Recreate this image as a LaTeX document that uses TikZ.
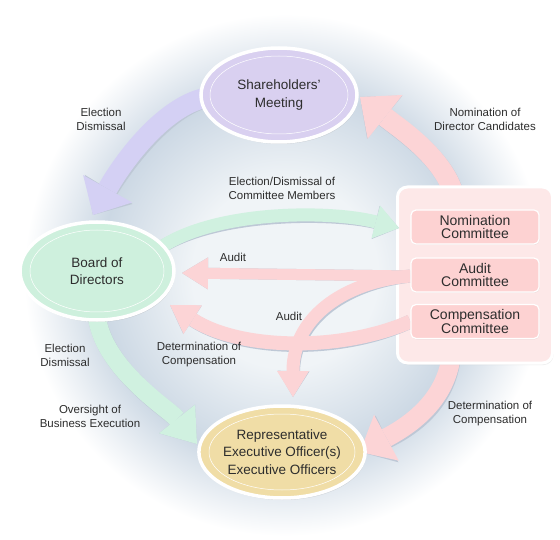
\documentclass[tikz,border=0pt]{standalone}
\usepackage{fontspec}
\setmainfont{Liberation Sans}
\usetikzlibrary{arrows.meta,shapes.geometric,shadows,calc}

\definecolor{txt}{RGB}{45,45,45}
\definecolor{lav}{RGB}{217,208,240}
\definecolor{lavarr}{RGB}{212,208,244}
\definecolor{mint}{RGB}{206,240,221}
\definecolor{mintarr}{RGB}{208,241,224}
\definecolor{gold}{RGB}{240,221,166}
\definecolor{pinkarr}{RGB}{252,212,214}
\definecolor{combox}{RGB}{253,210,210}
\definecolor{comouter}{RGB}{253,232,232}
\definecolor{arrshadow}{RGB}{190,200,214}
\definecolor{bgA}{RGB}{240,244,247}
\definecolor{bgB}{RGB}{204,216,228}
\pgfdeclareradialshading{ringshade}{\pgfpointorigin}{color(0bp)=(bgA); color(8bp)=(bgA); color(16bp)=(bgB); color(22.5bp)=(white); color(50bp)=(white)}

\pgfdeclarelayer{bg}
\pgfdeclarelayer{backshadow}
\pgfdeclarelayer{arrback}
\pgfdeclarelayer{boxlayer}
\pgfdeclarelayer{frontshadow}
\pgfdeclarelayer{arrfront}
\pgfsetlayers{bg,backshadow,arrback,boxlayer,frontshadow,arrfront,main}

\tikzset{
  ell/.style={ellipse, draw=white, line width=3.5pt, inner sep=0pt, align=center,
    font=\fontsize{13.5}{17.5}\selectfont, text=txt,
    drop shadow={opacity=0.22, shadow xshift=1pt, shadow yshift=-2pt}},
  cbox/.style={rectangle, rounded corners=5pt, draw=white, line width=1.2pt, fill=combox,
    minimum width=128pt, minimum height=34pt, inner sep=0pt, align=center,
    font=\fontsize{14}{13}\selectfont, text=txt,
    drop shadow={opacity=0.12, shadow xshift=0.5pt, shadow yshift=-1pt}},
  lbl/.style={align=center, font=\fontsize{11.5}{14}\selectfont, text=txt, inner sep=1pt},
  fat/.style args={#1/#2/#3}{line width=#1pt, line join=round,
    -{Triangle[width=#2pt,length=#3pt,line width=0pt]}},
  innerring/.style={draw=white, line width=0.5pt},
}

\newcommand{\fatarr}[5]{%
  \begin{pgfonlayer}{#1}\draw[fat=#4, draw=arrshadow, shift={(1.5,2)}] #5;\end{pgfonlayer}%
  \begin{pgfonlayer}{#2}\draw[fat=#4, draw=#3] #5;\end{pgfonlayer}}

\begin{document}
\begin{tikzpicture}[x=1pt,y=-1pt]
\useasboundingbox (0,0) rectangle (560,540);
\begin{pgfonlayer}{bg}
  \fill[white] (0,0) rectangle (560,540);
  \shade[shading=ringshade] (-5,-15) rectangle (575,565);
\end{pgfonlayer}

% main nodes
\node[ell, fill=lav, minimum width=156pt, minimum height=94pt] (sh) at (279,95) {Shareholders’\\Meeting};
\draw[innerring] (sh.center) ellipse [x radius=69pt, y radius=39pt];
\node[ell, fill=mint, minimum width=154pt, minimum height=98pt] (bd) at (97,271) {Board of\\Directors};
\draw[innerring] (bd.center) ellipse [x radius=67pt, y radius=41pt];
\node[ell, fill=gold, minimum width=162pt, minimum height=92pt] (rep) at (282,452) {Representative\\Executive Officer(s)\\Executive Officers};
\draw[innerring] (rep.center) ellipse [x radius=73pt, y radius=38pt];

% committee box
\begin{pgfonlayer}{boxlayer}
\node[draw=white, line width=3pt, fill=comouter, rounded corners=10pt,
  minimum width=155pt, minimum height=176pt, inner sep=0pt,
  drop shadow={opacity=0.15, shadow xshift=1pt, shadow yshift=-2pt}] (com) at (475,275) {};
\end{pgfonlayer}
\node[cbox] (nom) at (475,227) {Nomination\\Committee};
\node[cbox] (aud) at (475,275) {Audit\\Committee};
\node[cbox] (cmp) at (475,321.5) {Compensation\\Committee};

% arrow end points
\coordinate (s1) at (210,97);
\coordinate (t1) at (93,215);
\coordinate (s2) at (160,248);
\coordinate (t2) at (399,228);
\coordinate (s3) at ($(aud.west)+(0,1)$);
\coordinate (t3) at (182,273);
\coordinate (t4) at (293,397);
\coordinate (s5) at (cmp.west);
\coordinate (t5) at (170,305);
\coordinate (s6) at (455,200);
\coordinate (t6) at (360,97);
\coordinate (s7) at (452,350);
\coordinate (t7) at (360,452);
\coordinate (s8) at (97,318);
\coordinate (t8) at (197,444);

% arrows behind the committee box
\fatarr{backshadow}{arrback}{pinkarr}{20/56/32}{(s6) .. controls (448,160) and (399,128) .. (t6)}
\fatarr{backshadow}{arrback}{pinkarr}{19/52/30}{(s7) .. controls (448,400) and (410,425) .. (t7)}

% arrows in front
\fatarr{frontshadow}{arrfront}{lavarr}{20/56/30}{(s1) .. controls (165,103) and (122,163) .. (t1)}
\fatarr{frontshadow}{arrfront}{mintarr}{13/34/24}{(s2) .. controls (215,210) and (330,210) .. (t2)}
\fatarr{frontshadow}{arrfront}{pinkarr}{11/32/26}{(s3) -- (t3)}
\fatarr{frontshadow}{arrfront}{pinkarr}{13/32/26}{(s3) .. controls (340,282) and (293,320) .. (t4)}
\fatarr{frontshadow}{arrfront}{pinkarr}{14/34/27}{(s5) .. controls (340,352) and (240,350) .. (t5)}
\fatarr{frontshadow}{arrfront}{mintarr}{18/46/32}{(s8) .. controls (105,370) and (170,410) .. (t8)}

% labels
\node[lbl] (l1) at (101,119) {Election\\Dismissal};
\node[lbl] (l2) at (485,119) {Nomination of\\Director Candidates};
\node[lbl] (l3) at (282,188) {Election/Dismissal of\\Committee Members};
\node[lbl] (l4) at (233,257) {Audit};
\node[lbl] (l5) at (289,316) {Audit};
\node[lbl] (l6) at (199,355) {Determination of\\Compensation};
\node[lbl] (l7) at (65,355) {Election\\Dismissal};
\node[lbl] (l8) at (90,416) {Oversight of\\Business Execution};
\node[lbl] (l9) at (490,414) {Determination of\\Compensation};
\end{tikzpicture}
\end{document}
